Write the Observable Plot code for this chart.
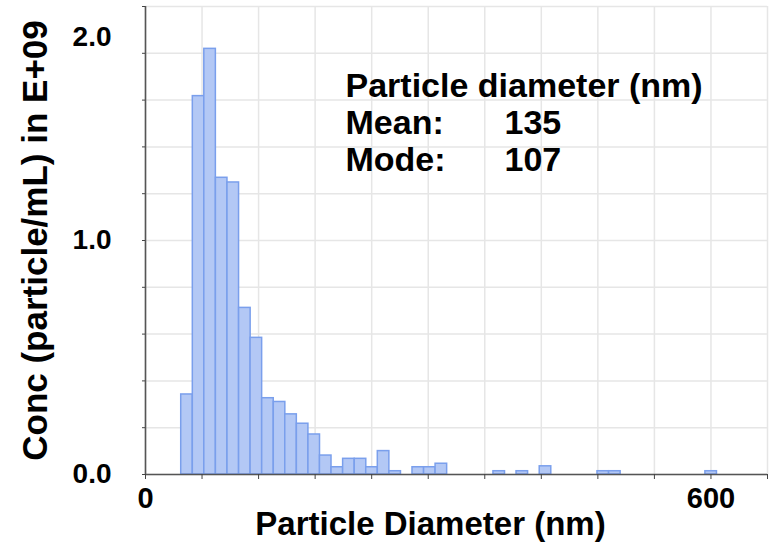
<!DOCTYPE html>
<html><head><meta charset="utf-8">
<script src="https://cdn.jsdelivr.net/npm/d3@7"></script>
<script src="https://cdn.jsdelivr.net/npm/@observablehq/plot@0.6"></script>
<style>
body{margin:0;background:#fff}
</style>
</head><body><div id="chart"></div>
<script>
// Histogram bins: left edge (nm) and concentration (E+09 particles/mL)
const binStartNm = [37.9, 50.2, 62.4, 74.7, 87.0, 99.3, 111.5, 123.8, 136.1, 148.3, 160.6, 172.9, 185.1, 197.4, 209.7, 222.0, 234.2, 246.5, 258.8, 283.3, 295.6, 307.8, 369.2, 393.7, 418.3, 479.6, 491.9, 594.1];
const concE9    = [0.342, 1.617, 1.819, 1.268, 1.248, 0.712, 0.584, 0.326, 0.310, 0.257, 0.217, 0.171, 0.081, 0.031, 0.067, 0.067, 0.031, 0.100, 0.014, 0.031, 0.031, 0.046, 0.014, 0.014, 0.035, 0.014, 0.014, 0.014];
const binWidthNm = 12.27;

const xTicksNm = [0, 60, 120, 180, 240, 300, 360, 420, 480, 540, 600, 660];
const xTickLabels = [0, 600];
const yTicks = [0, 0.2, 0.4, 0.6, 0.8, 1.0, 1.2, 1.4, 1.6, 1.8, 2.0];
const yTickLabelsLow = [0, 1];
const yTickLabelsTop = [2];

const xTitle = "Particle Diameter (nm)";
const yTitle = "Conc (particle/mL) in E+09";
const statTitle = "Particle diameter (nm)";
const statLabels = ["Mean:", "Mode:"];
const statValues = [135, 107];

const bins = binStartNm.map((x, i) => ({x1: x, x2: x + binWidthNm, y: concE9[i]}));

const FONT = "'Liberation Sans', Arial, Helvetica, sans-serif";
const bold = {fontWeight: "bold", fill: "#000"};

const chart = Plot.plot({
  width: 775,
  height: 543,
  marginLeft: 145,
  marginRight: 8,
  marginTop: 6,
  marginBottom: 69,
  style: {fontFamily: FONT, background: "#fff", overflow: "visible"},
  x: {domain: [0, 660]},
  y: {domain: [0, 2]},
  marks: [
    Plot.gridX(xTicksNm, {stroke: "#e6e6e6", strokeOpacity: 1, strokeWidth: 1.5}),
    Plot.gridY(yTicks, {stroke: "#e6e6e6", strokeOpacity: 1, strokeWidth: 1.5}),
    Plot.rectY(bins, {x1: "x1", x2: "x2", y: "y", fill: "#b3c8f5", stroke: "#7a9fec", strokeWidth: 1.5}),
    Plot.ruleX([0], {y1: 0, y2: 2, stroke: "#555", strokeWidth: 1.6}),
    Plot.ruleY([0], {stroke: "#555", strokeWidth: 1.6}),
    Plot.axisX(xTicksNm, {tickSize: 5, tickFormat: () => "", stroke: "#444", label: null}),
    Plot.axisX(xTickLabels, {tickSize: 0, tickPadding: 13, fontSize: 29, ...bold, label: null, tickFormat: d => String(d)}),
    Plot.axisY(yTicks, {tickSize: 3, tickFormat: () => "", stroke: "#444", label: null}),
    Plot.axisY(yTickLabelsLow, {tickSize: 0, tickPadding: 34, fontSize: 28, ...bold, label: null, tickFormat: d3.format(".1f")}),
    Plot.axisY(yTickLabelsTop, {tickSize: 0, tickPadding: 34, fontSize: 28, ...bold, label: null, tickFormat: d3.format(".1f"), dy: 31}),
    Plot.text([yTitle], {frameAnchor: "left", dx: -110, rotate: -90, textAnchor: "middle", lineAnchor: "middle", fontSize: 35, ...bold}),
    Plot.text([xTitle], {frameAnchor: "bottom", dx: -26, dy: 50, textAnchor: "middle", lineAnchor: "middle", fontSize: 33, ...bold}),
    Plot.text([[statTitle, ...statLabels].join("\n")], {frameAnchor: "top-left", dx: 200, dy: 64, textAnchor: "start", lineAnchor: "top", lineHeight: 1.09, fontSize: 34, ...bold}),
    Plot.text([["", ...statValues.map(String)].join("\n")], {frameAnchor: "top-left", dx: 359, dy: 64, textAnchor: "start", lineAnchor: "top", lineHeight: 1.09, fontSize: 34, ...bold})
  ]
});
document.getElementById("chart").appendChild(chart);
</script>
</body></html>
